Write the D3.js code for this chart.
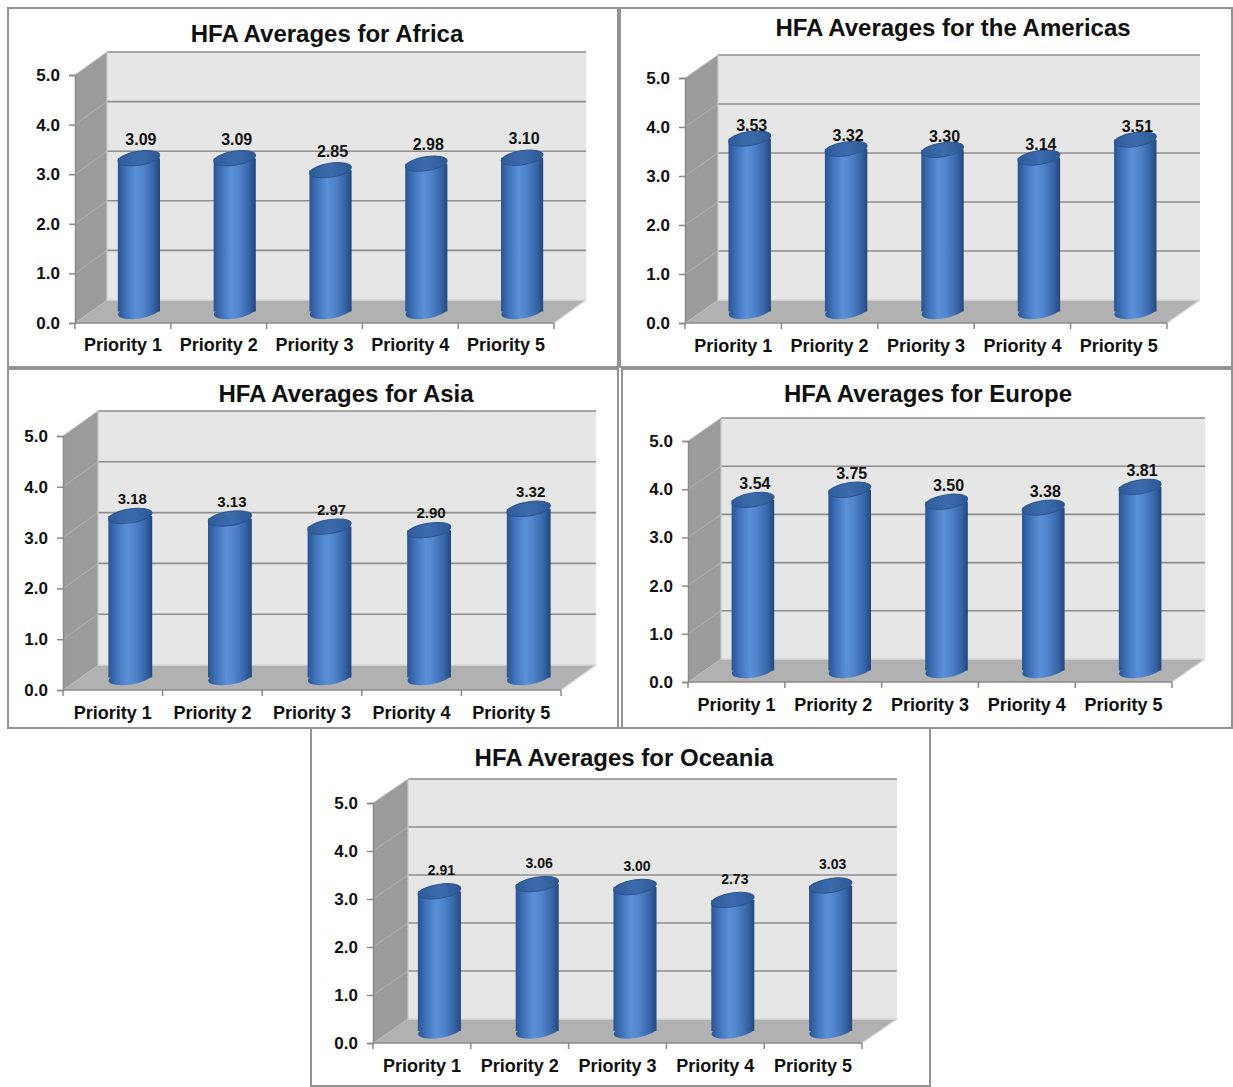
<!DOCTYPE html>
<html>
<head>
<meta charset="utf-8">
<script src="https://cdn.jsdelivr.net/npm/d3@7/dist/d3.min.js"></script>
<style>
  html, body { margin: 0; padding: 0; background: #ffffff; }
  svg { display: block; }
  text { font-family: "Liberation Sans", Arial, sans-serif; fill: #111; }
</style>
</head>
<body>
<svg id="chart" width="1233" height="1087"></svg>
<script>
// HFA priority averages by region
const categories = ["Priority 1", "Priority 2", "Priority 3", "Priority 4", "Priority 5"];
const yTicks = [0, 1, 2, 3, 4, 5];
const regionTitles = [
  "HFA Averages for Africa",
  "HFA Averages for the Americas",
  "HFA Averages for Asia",
  "HFA Averages for Europe",
  "HFA Averages for Oceania"
];
const africa   = [3.09, 3.09, 2.85, 2.98, 3.10];
const americas = [3.53, 3.32, 3.30, 3.14, 3.51];
const asia     = [3.18, 3.13, 2.97, 2.90, 3.32];
const europe   = [3.54, 3.75, 3.50, 3.38, 3.81];
const oceania  = [2.91, 3.06, 3.00, 2.73, 3.03];

// Panel layout: frame box, plot front edge, 3D depth offset, text placement
const layout = [
  { box: [8, 8, 618, 367],     x0: 75,  x1: 554,  yTop: 75,  yBot: 323,  dx: 32, dy: -23, titleX: 327, titleY: 34,  catY: 345,  valSize: 16, valGap: 19 },
  { box: [620, 8, 1232, 367],  x0: 685, x1: 1167, yTop: 78,  yBot: 323,  dx: 33, dy: -23, titleX: 953, titleY: 28,  catY: 346,  valSize: 16, valGap: 13 },
  { box: [8, 369, 618, 728],   x0: 63,  x1: 561,  yTop: 436, yBot: 690,  dx: 35, dy: -25, titleX: 346, titleY: 394, catY: 713,  valSize: 15, valGap: 17 },
  { box: [622, 369, 1232, 728],x0: 688, x1: 1172, yTop: 441, yBot: 682,  dx: 33, dy: -23, titleX: 928, titleY: 394, catY: 705,  valSize: 16, valGap: 16 },
  { box: [311, 728, 930, 1086],x0: 373, x1: 862,  yTop: 803, yBot: 1043, dx: 35, dy: -24, titleX: 624, titleY: 758, catY: 1066, valSize: 14, valGap: 21 }
];
const seriesList = [africa, americas, asia, europe, oceania];

const svg = d3.select("#chart");

// Cylinder shading
const defs = svg.append("defs");
const body = defs.append("linearGradient").attr("id", "cylBody")
  .attr("x1", "0%").attr("x2", "100%").attr("y1", "0%").attr("y2", "0%");
[["0%", "#2a5391"], ["18%", "#3f72b8"], ["42%", "#5b90d8"], ["60%", "#4f84cb"], ["85%", "#3664a6"], ["100%", "#22467c"]]
  .forEach(([o, c]) => body.append("stop").attr("offset", o).attr("stop-color", c));
const cap = defs.append("linearGradient").attr("id", "cylTop")
  .attr("x1", "0%").attr("x2", "100%").attr("y1", "0%").attr("y2", "0%");
[["0%", "#2f5b98"], ["50%", "#3c6cae"], ["100%", "#2d5893"]]
  .forEach(([o, c]) => cap.append("stop").attr("offset", o).attr("stop-color", c));

seriesList.forEach((values, i) => drawPanel(svg, layout[i], regionTitles[i], values));

function drawPanel(root, L, title, values) {
  const g = root.append("g");
  const [bx0, by0, bx1, by1] = L.box;

  // frame
  g.append("rect").attr("x", bx0).attr("y", by0)
    .attr("width", bx1 - bx0).attr("height", by1 - by0)
    .attr("fill", "#fff").attr("stroke", "#949494").attr("stroke-width", 2);

  const x = d3.scaleBand().domain(categories).range([L.x0, L.x1])
    .paddingInner(0.56).paddingOuter(0.28);
  const y = d3.scaleLinear().domain([0, 5]).range([L.yBot, L.yTop]);
  const { dx, dy } = L;

  // back wall
  g.append("rect").attr("x", L.x0 + dx).attr("y", y(5) + dy)
    .attr("width", L.x1 - L.x0).attr("height", y(0) - y(5))
    .attr("fill", "#e6e6e6");
  // side wall
  g.append("path")
    .attr("d", `M${L.x0},${y(0)} L${L.x0},${y(5)} L${L.x0 + dx},${y(5) + dy} L${L.x0 + dx},${y(0) + dy} Z`)
    .attr("fill", "#9b9b9b");
  // floor
  g.append("path")
    .attr("d", `M${L.x0},${y(0)} L${L.x1},${y(0)} L${L.x1 + dx},${y(0) + dy} L${L.x0 + dx},${y(0) + dy} Z`)
    .attr("fill", "#b1b1b1");

  // gridlines on back wall and side wall
  const grid = g.append("g");
  grid.selectAll("line.back").data(yTicks).join("line").attr("class", "back")
    .attr("x1", L.x0 + dx).attr("x2", L.x1 + dx)
    .attr("y1", d => y(d) + dy).attr("y2", d => y(d) + dy)
    .attr("stroke", d => d === 0 ? "#d8d8d8" : "#8e8e8e").attr("stroke-width", 1.6);
  grid.selectAll("line.side").data(yTicks.filter(d => d > 0 && d < 5)).join("line").attr("class", "side")
    .attr("x1", L.x0).attr("x2", L.x0 + dx)
    .attr("y1", d => y(d)).attr("y2", d => y(d) + dy)
    .attr("stroke", "#adadad").attr("stroke-width", 1.2);
  // wall edges
  g.append("line").attr("x1", L.x0 + dx).attr("x2", L.x0 + dx)
    .attr("y1", y(5) + dy).attr("y2", y(0) + dy)
    .attr("stroke", "#c8c8c8").attr("stroke-width", 1.2);
  g.append("line").attr("x1", L.x0).attr("x2", L.x0 + dx)
    .attr("y1", y(5)).attr("y2", y(5) + dy)
    .attr("stroke", "#bdbdbd").attr("stroke-width", 1);
  g.append("line").attr("x1", L.x1).attr("x2", L.x1 + dx)
    .attr("y1", y(0)).attr("y2", y(0) + dy)
    .attr("stroke", "#d8d8d8").attr("stroke-width", 1.2);

  // y axis
  const yAxis = d3.axisLeft(y).tickValues(yTicks).tickFormat(d3.format(".1f"))
    .tickSize(6).tickPadding(9);
  const ya = g.append("g").attr("transform", `translate(${L.x0},0)`).call(yAxis);
  ya.select(".domain").attr("stroke", "#8a8a8a").attr("stroke-width", 1.5);
  ya.selectAll(".tick line").attr("stroke", "#8a8a8a").attr("stroke-width", 1.5);
  ya.selectAll(".tick text").attr("font-size", 17).attr("font-weight", "bold")
    .attr("fill", "#111").style("font-family", "'Liberation Sans', Arial, sans-serif");

  // x axis: ticks at category boundaries
  const xa = g.append("g").attr("transform", `translate(0,${y(0)})`);
  xa.append("line").attr("x1", L.x0).attr("x2", L.x1).attr("y1", 0).attr("y2", 0)
    .attr("stroke", "#8a8a8a").attr("stroke-width", 1.5);
  const step = x.step();
  xa.selectAll("line.tk").data(d3.range(categories.length + 1)).join("line").attr("class", "tk")
    .attr("x1", k => L.x0 + k * step).attr("x2", k => L.x0 + k * step)
    .attr("y1", 0).attr("y2", 6).attr("stroke", "#8a8a8a").attr("stroke-width", 1.5);
  xa.selectAll("text").data(categories).join("text")
    .attr("x", d => x(d) + x.bandwidth() / 2)
    .attr("y", L.catY - y(0))
    .attr("dy", "0.35em")
    .attr("text-anchor", "middle")
    .attr("font-size", 18).attr("font-weight", "bold")
    .text(d => d);

  // cylinders placed at mid-depth
  const rx = x.bandwidth() / 2;
  const ry = 7;
  const tilt = -9;
  const bars = g.append("g").selectAll("g").data(values.map((v, k) => ({ v, c: categories[k] }))).join("g");
  bars.each(function (d) {
    const s = d3.select(this);
    const cx = x(d.c) + rx + dx / 2;
    const yb = y(0) + dy / 2;
    const yt = y(d.v) + dy / 2;
    s.append("ellipse").attr("cx", cx).attr("cy", yb).attr("rx", rx).attr("ry", ry)
      .attr("transform", `rotate(${tilt},${cx},${yb})`)
      .attr("fill", "url(#cylBody)");
    s.append("rect").attr("x", cx - rx).attr("y", yt).attr("width", rx * 2).attr("height", yb - yt)
      .attr("fill", "url(#cylBody)");
    s.append("ellipse").attr("cx", cx).attr("cy", yt).attr("rx", rx).attr("ry", ry)
      .attr("transform", `rotate(${tilt},${cx},${yt})`)
      .attr("fill", "url(#cylTop)").attr("stroke", "#2b548e").attr("stroke-width", 1);
    s.append("text").attr("x", cx + 2).attr("y", yt - L.valGap).attr("dy", "0.35em")
      .attr("text-anchor", "middle").attr("font-size", L.valSize).attr("font-weight", "bold")
      .text(d3.format(".2f")(d.v));
  });

  // title
  g.append("text").attr("x", L.titleX).attr("y", L.titleY).attr("dy", "0.35em")
    .attr("text-anchor", "middle").attr("font-size", 24).attr("font-weight", "bold")
    .text(title);
}
</script>
</body>
</html>
